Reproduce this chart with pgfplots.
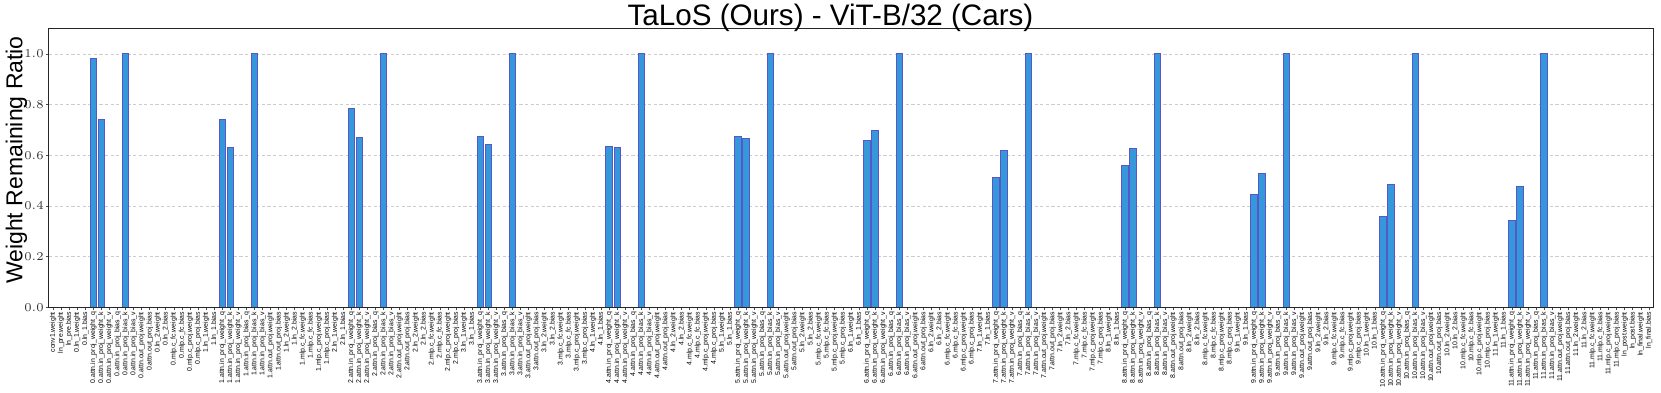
\documentclass[border=0pt]{standalone}
\usepackage[no-math]{fontspec}
\setmainfont{Liberation Sans}
\usepackage{pgfplots}
\pgfplotsset{compat=1.18}
\definecolor{barfill}{RGB}{52,152,219}
\definecolor{baredge}{RGB}{90,86,200}

% remaining ratio per parameter, index = position on the x axis
\pgfplotstableread{
idx val
0 0
1 0
2 0
3 0
4 0
5 0.983
6 0.740
7 0
8 0
9 1.0
10 0
11 0
12 0
13 0
14 0
15 0
16 0
17 0
18 0
19 0
20 0
21 0.742
22 0.630
23 0
24 0
25 1.0
26 0
27 0
28 0
29 0
30 0
31 0
32 0
33 0
34 0
35 0
36 0
37 0.786
38 0.671
39 0
40 0
41 1.0
42 0
43 0
44 0
45 0
46 0
47 0
48 0
49 0
50 0
51 0
52 0
53 0.675
54 0.642
55 0
56 0
57 1.0
58 0
59 0
60 0
61 0
62 0
63 0
64 0
65 0
66 0
67 0
68 0
69 0.634
70 0.630
71 0
72 0
73 1.0
74 0
75 0
76 0
77 0
78 0
79 0
80 0
81 0
82 0
83 0
84 0
85 0.675
86 0.667
87 0
88 0
89 1.0
90 0
91 0
92 0
93 0
94 0
95 0
96 0
97 0
98 0
99 0
100 0
101 0.658
102 0.700
103 0
104 0
105 1.0
106 0
107 0
108 0
109 0
110 0
111 0
112 0
113 0
114 0
115 0
116 0
117 0.514
118 0.620
119 0
120 0
121 1.0
122 0
123 0
124 0
125 0
126 0
127 0
128 0
129 0
130 0
131 0
132 0
133 0.560
134 0.626
135 0
136 0
137 1.0
138 0
139 0
140 0
141 0
142 0
143 0
144 0
145 0
146 0
147 0
148 0
149 0.444
150 0.527
151 0
152 0
153 1.0
154 0
155 0
156 0
157 0
158 0
159 0
160 0
161 0
162 0
163 0
164 0
165 0.358
166 0.486
167 0
168 0
169 1.0
170 0
171 0
172 0
173 0
174 0
175 0
176 0
177 0
178 0
179 0
180 0
181 0.344
182 0.479
183 0
184 0
185 1.0
186 0
187 0
188 0
189 0
190 0
191 0
192 0
193 0
194 0
195 0
196 0
197 0
198 0
}\ratios

\begin{document}
\begin{tikzpicture}
\begin{axis}[
  scale only axis, width=802pt, height=139.45pt,
  xmin=-0.5, xmax=198.5, ymin=0, ymax=1.1,
  ybar, bar width=0.8,
  xtick={0,...,198},
  xticklabels={conv1.weight, ln\_pre.weight, ln\_pre.bias,
    0.ln\_1.weight, 0.ln\_1.bias, 0.attn.in\_proj\_weight\_q, 0.attn.in\_proj\_weight\_k, 0.attn.in\_proj\_weight\_v, 0.attn.in\_proj\_bias\_q, 0.attn.in\_proj\_bias\_k, 0.attn.in\_proj\_bias\_v, 0.attn.out\_proj.weight, 0.attn.out\_proj.bias, 0.ln\_2.weight, 0.ln\_2.bias, 0.mlp.c\_fc.weight, 0.mlp.c\_fc.bias, 0.mlp.c\_proj.weight, 0.mlp.c\_proj.bias,
    1.ln\_1.weight, 1.ln\_1.bias, 1.attn.in\_proj\_weight\_q, 1.attn.in\_proj\_weight\_k, 1.attn.in\_proj\_weight\_v, 1.attn.in\_proj\_bias\_q, 1.attn.in\_proj\_bias\_k, 1.attn.in\_proj\_bias\_v, 1.attn.out\_proj.weight, 1.attn.out\_proj.bias, 1.ln\_2.weight, 1.ln\_2.bias, 1.mlp.c\_fc.weight, 1.mlp.c\_fc.bias, 1.mlp.c\_proj.weight, 1.mlp.c\_proj.bias,
    2.ln\_1.weight, 2.ln\_1.bias, 2.attn.in\_proj\_weight\_q, 2.attn.in\_proj\_weight\_k, 2.attn.in\_proj\_weight\_v, 2.attn.in\_proj\_bias\_q, 2.attn.in\_proj\_bias\_k, 2.attn.in\_proj\_bias\_v, 2.attn.out\_proj.weight, 2.attn.out\_proj.bias, 2.ln\_2.weight, 2.ln\_2.bias, 2.mlp.c\_fc.weight, 2.mlp.c\_fc.bias, 2.mlp.c\_proj.weight, 2.mlp.c\_proj.bias,
    3.ln\_1.weight, 3.ln\_1.bias, 3.attn.in\_proj\_weight\_q, 3.attn.in\_proj\_weight\_k, 3.attn.in\_proj\_weight\_v, 3.attn.in\_proj\_bias\_q, 3.attn.in\_proj\_bias\_k, 3.attn.in\_proj\_bias\_v, 3.attn.out\_proj.weight, 3.attn.out\_proj.bias, 3.ln\_2.weight, 3.ln\_2.bias, 3.mlp.c\_fc.weight, 3.mlp.c\_fc.bias, 3.mlp.c\_proj.weight, 3.mlp.c\_proj.bias,
    4.ln\_1.weight, 4.ln\_1.bias, 4.attn.in\_proj\_weight\_q, 4.attn.in\_proj\_weight\_k, 4.attn.in\_proj\_weight\_v, 4.attn.in\_proj\_bias\_q, 4.attn.in\_proj\_bias\_k, 4.attn.in\_proj\_bias\_v, 4.attn.out\_proj.weight, 4.attn.out\_proj.bias, 4.ln\_2.weight, 4.ln\_2.bias, 4.mlp.c\_fc.weight, 4.mlp.c\_fc.bias, 4.mlp.c\_proj.weight, 4.mlp.c\_proj.bias,
    5.ln\_1.weight, 5.ln\_1.bias, 5.attn.in\_proj\_weight\_q, 5.attn.in\_proj\_weight\_k, 5.attn.in\_proj\_weight\_v, 5.attn.in\_proj\_bias\_q, 5.attn.in\_proj\_bias\_k, 5.attn.in\_proj\_bias\_v, 5.attn.out\_proj.weight, 5.attn.out\_proj.bias, 5.ln\_2.weight, 5.ln\_2.bias, 5.mlp.c\_fc.weight, 5.mlp.c\_fc.bias, 5.mlp.c\_proj.weight, 5.mlp.c\_proj.bias,
    6.ln\_1.weight, 6.ln\_1.bias, 6.attn.in\_proj\_weight\_q, 6.attn.in\_proj\_weight\_k, 6.attn.in\_proj\_weight\_v, 6.attn.in\_proj\_bias\_q, 6.attn.in\_proj\_bias\_k, 6.attn.in\_proj\_bias\_v, 6.attn.out\_proj.weight, 6.attn.out\_proj.bias, 6.ln\_2.weight, 6.ln\_2.bias, 6.mlp.c\_fc.weight, 6.mlp.c\_fc.bias, 6.mlp.c\_proj.weight, 6.mlp.c\_proj.bias,
    7.ln\_1.weight, 7.ln\_1.bias, 7.attn.in\_proj\_weight\_q, 7.attn.in\_proj\_weight\_k, 7.attn.in\_proj\_weight\_v, 7.attn.in\_proj\_bias\_q, 7.attn.in\_proj\_bias\_k, 7.attn.in\_proj\_bias\_v, 7.attn.out\_proj.weight, 7.attn.out\_proj.bias, 7.ln\_2.weight, 7.ln\_2.bias, 7.mlp.c\_fc.weight, 7.mlp.c\_fc.bias, 7.mlp.c\_proj.weight, 7.mlp.c\_proj.bias,
    8.ln\_1.weight, 8.ln\_1.bias, 8.attn.in\_proj\_weight\_q, 8.attn.in\_proj\_weight\_k, 8.attn.in\_proj\_weight\_v, 8.attn.in\_proj\_bias\_q, 8.attn.in\_proj\_bias\_k, 8.attn.in\_proj\_bias\_v, 8.attn.out\_proj.weight, 8.attn.out\_proj.bias, 8.ln\_2.weight, 8.ln\_2.bias, 8.mlp.c\_fc.weight, 8.mlp.c\_fc.bias, 8.mlp.c\_proj.weight, 8.mlp.c\_proj.bias,
    9.ln\_1.weight, 9.ln\_1.bias, 9.attn.in\_proj\_weight\_q, 9.attn.in\_proj\_weight\_k, 9.attn.in\_proj\_weight\_v, 9.attn.in\_proj\_bias\_q, 9.attn.in\_proj\_bias\_k, 9.attn.in\_proj\_bias\_v, 9.attn.out\_proj.weight, 9.attn.out\_proj.bias, 9.ln\_2.weight, 9.ln\_2.bias, 9.mlp.c\_fc.weight, 9.mlp.c\_fc.bias, 9.mlp.c\_proj.weight, 9.mlp.c\_proj.bias,
    10.ln\_1.weight, 10.ln\_1.bias, 10.attn.in\_proj\_weight\_q, 10.attn.in\_proj\_weight\_k, 10.attn.in\_proj\_weight\_v, 10.attn.in\_proj\_bias\_q, 10.attn.in\_proj\_bias\_k, 10.attn.in\_proj\_bias\_v, 10.attn.out\_proj.weight, 10.attn.out\_proj.bias, 10.ln\_2.weight, 10.ln\_2.bias, 10.mlp.c\_fc.weight, 10.mlp.c\_fc.bias, 10.mlp.c\_proj.weight, 10.mlp.c\_proj.bias,
    11.ln\_1.weight, 11.ln\_1.bias, 11.attn.in\_proj\_weight\_q, 11.attn.in\_proj\_weight\_k, 11.attn.in\_proj\_weight\_v, 11.attn.in\_proj\_bias\_q, 11.attn.in\_proj\_bias\_k, 11.attn.in\_proj\_bias\_v, 11.attn.out\_proj.weight, 11.attn.out\_proj.bias, 11.ln\_2.weight, 11.ln\_2.bias, 11.mlp.c\_fc.weight, 11.mlp.c\_fc.bias, 11.mlp.c\_proj.weight, 11.mlp.c\_proj.bias,
    ln\_post.weight, ln\_post.bias, ln\_final.weight, ln\_final.bias},
  x tick label style={rotate=90, anchor=east, inner sep=0.6pt,
    font=\fontsize{3.45}{4}\selectfont},
  ytick={0,0.2,0.4,0.6,0.8,1.0},
  yticklabel style={font=\fontsize{6.2}{7}\selectfont, text=black!80, inner sep=1pt,
    /pgf/number format/.cd, fixed, fixed zerofill, precision=1},
  ymajorgrids, major grid style={dash pattern=on 1.6pt off 1.2pt, black!20, line width=0.4pt},
  tick align=outside, major tick length=1.5pt, tick style={black!70, line width=0.4pt},
  xtick pos=left, ytick pos=left,
  axis line style={line width=0.5pt, black!85},
  ylabel={Weight Remaining Ratio},
  every axis y label/.style={at={(rel axis cs:0,0.5)}, rotate=90, anchor=center,
    yshift=16.3pt, xshift=4pt, font=\fontsize{11.5}{13}\selectfont},
  title={TaLoS (Ours) - ViT-B/32 (Cars)},
  every axis title/.style={at={(rel axis cs:0.5,1)}, anchor=base, yshift=1.3pt,
    xshift=-10.25pt, font=\fontsize{14.8}{16}\selectfont},
]
\addplot[fill=barfill, draw=baredge, line width=0.5pt] table[x=idx, y=val] {\ratios};
\draw[black!85, line width=0.5pt] (rel axis cs:0,0) -- (rel axis cs:1,0);
\coordinate (sw) at (rel axis cs:0,0);
\coordinate (ne) at (rel axis cs:1,1);
\end{axis}
\pgfresetboundingbox
\path[use as bounding box] ([shift={(-24.5pt,-42.75pt)}]sw) rectangle ([shift={(4pt,14.3pt)}]ne);
\end{tikzpicture}
\end{document}
